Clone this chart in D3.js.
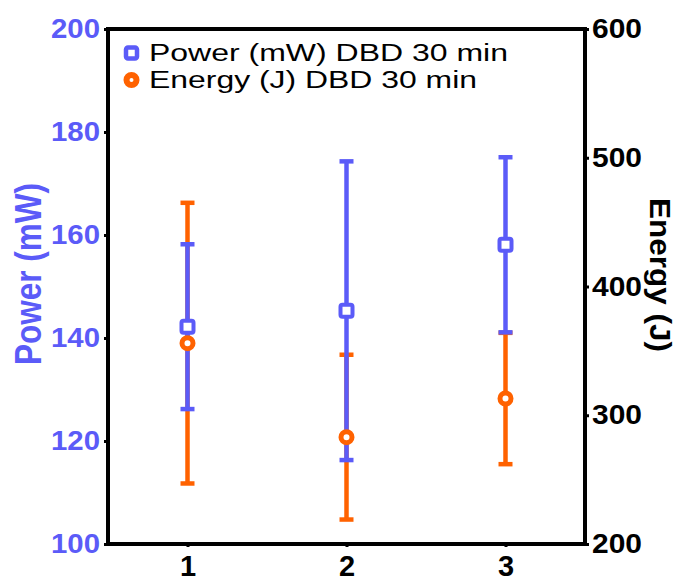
<!DOCTYPE html>
<html><head><meta charset="utf-8">
<script src="https://cdn.jsdelivr.net/npm/d3@7"></script>
<style>body{margin:0;background:#fff}svg{display:block}</style>
</head><body>
<script>
const categories = [1, 2, 3];
const powerMean = [142.2, 145.3, 158.1];
const powerErr = [16.0, 29.0, 17.0];
const energyMean = [356, 283, 313];
const energyErr = [109, 64, 51];
const leftTicks = [100, 120, 140, 160, 180, 200];
const rightTicks = [200, 300, 400, 500, 600];
const legendLabels = ["Power (mW) DBD 30 min", "Energy (J) DBD 30 min"];
const axisTitles = ["Power (mW)", "Energy (J)"];

const W = 681, H = 581;
const m = {l: 108, r: 585, t: 29, b: 544};
const blue = "#5b5bf8", orange = "#ff6200";
const svg = d3.select("body").append("svg").attr("width", W).attr("height", H);

const x = d3.scaleLinear().domain([0.5, 3.5]).range([m.l, m.r]);
const yL = d3.scaleLinear().domain([100, 200]).range([m.b, m.t]);
const yR = d3.scaleLinear().domain([200, 600]).range([m.b, m.t]);
const font = "Arial, 'Liberation Sans', sans-serif";

// axes
const gL = svg.append("g").attr("transform", `translate(${m.l},0)`)
  .call(d3.axisLeft(yL).tickValues(leftTicks).tickSize(4).tickPadding(4));
gL.selectAll("text").attr("fill", blue).style("font", `bold 28px ${font}`)
  .attr("textLength", 49).attr("lengthAdjust", "spacingAndGlyphs");
const gR = svg.append("g").attr("transform", `translate(${m.r},0)`)
  .call(d3.axisRight(yR).tickValues(rightTicks).tickSize(4).tickPadding(3));
gR.selectAll("text").attr("fill", "#000").style("font", `bold 27px ${font}`)
  .attr("textLength", 50).attr("lengthAdjust", "spacingAndGlyphs");
const gB = svg.append("g").attr("transform", `translate(0,${m.b})`)
  .call(d3.axisBottom(x).tickValues(categories).tickFormat(d3.format("d")).tickSize(3).tickPadding(8));
gB.selectAll("text").attr("fill", "#000").style("font", `bold 29px ${font}`);
svg.selectAll(".domain").remove();
svg.selectAll(".tick line").attr("stroke", "#000").attr("stroke-width", 3);
// frame
svg.append("rect").attr("x", m.l).attr("y", m.t).attr("width", m.r - m.l).attr("height", m.b - m.t)
  .attr("fill", "none").attr("stroke", "#000").attr("stroke-width", 4);

// axis titles
svg.append("text").attr("transform", `translate(41,274) rotate(-90)`)
  .attr("text-anchor", "middle").attr("fill", blue).style("font", `bold 36px ${font}`)
  .attr("textLength", 182).attr("lengthAdjust", "spacingAndGlyphs").text(axisTitles[0]);
svg.append("text").attr("transform", `translate(650,275) rotate(90)`)
  .attr("text-anchor", "middle").attr("fill", "#000").style("font", `bold 30px ${font}`)
  .attr("textLength", 154).attr("lengthAdjust", "spacingAndGlyphs").text(axisTitles[1]);

const cap = 7;
function errBars(means, errs, y, color) {
  const g = svg.append("g").attr("stroke", color).attr("stroke-width", 4.5).attr("fill", "none");
  categories.forEach((c, i) => {
    const cx = x(c), top = y(means[i] + errs[i]), bot = y(means[i] - errs[i]);
    g.append("line").attr("x1", cx).attr("x2", cx).attr("y1", top).attr("y2", bot);
    g.append("line").attr("x1", cx - cap).attr("x2", cx + cap).attr("y1", top).attr("y2", top);
    g.append("line").attr("x1", cx - cap).attr("x2", cx + cap).attr("y1", bot).attr("y2", bot);
  });
}
errBars(energyMean, energyErr, yR, orange);
errBars(powerMean, powerErr, yL, blue);

// markers
categories.forEach((c, i) => {
  svg.append("circle").attr("cx", x(c)).attr("cy", yR(energyMean[i])).attr("r", 5.5)
    .attr("fill", "#fff").attr("stroke", orange).attr("stroke-width", 5);
});
categories.forEach((c, i) => {
  svg.append("rect").attr("x", x(c) - 6).attr("y", yL(powerMean[i]) - 6).attr("width", 12).attr("height", 12)
    .attr("rx", 2).attr("fill", "#fff").attr("stroke", blue).attr("stroke-width", 4);
});

// legend
const lg = svg.append("g");
lg.append("rect").attr("x", 126).attr("y", 47.5).attr("width", 11).attr("height", 11).attr("rx", 2)
  .attr("fill", "#fff").attr("stroke", blue).attr("stroke-width", 4.5);
lg.append("circle").attr("cx", 131.5).attr("cy", 80).attr("r", 5)
  .attr("fill", "#fff").attr("stroke", orange).attr("stroke-width", 6);
lg.append("text").attr("x", 149).attr("y", 61).attr("fill", "#000").style("font", `23px ${font}`)
  .attr("textLength", 359).attr("lengthAdjust", "spacingAndGlyphs").text(legendLabels[0]);
lg.append("text").attr("x", 149).attr("y", 88).attr("fill", "#000").style("font", `23px ${font}`)
  .attr("textLength", 328).attr("lengthAdjust", "spacingAndGlyphs").text(legendLabels[1]);
</script>
</body></html>
